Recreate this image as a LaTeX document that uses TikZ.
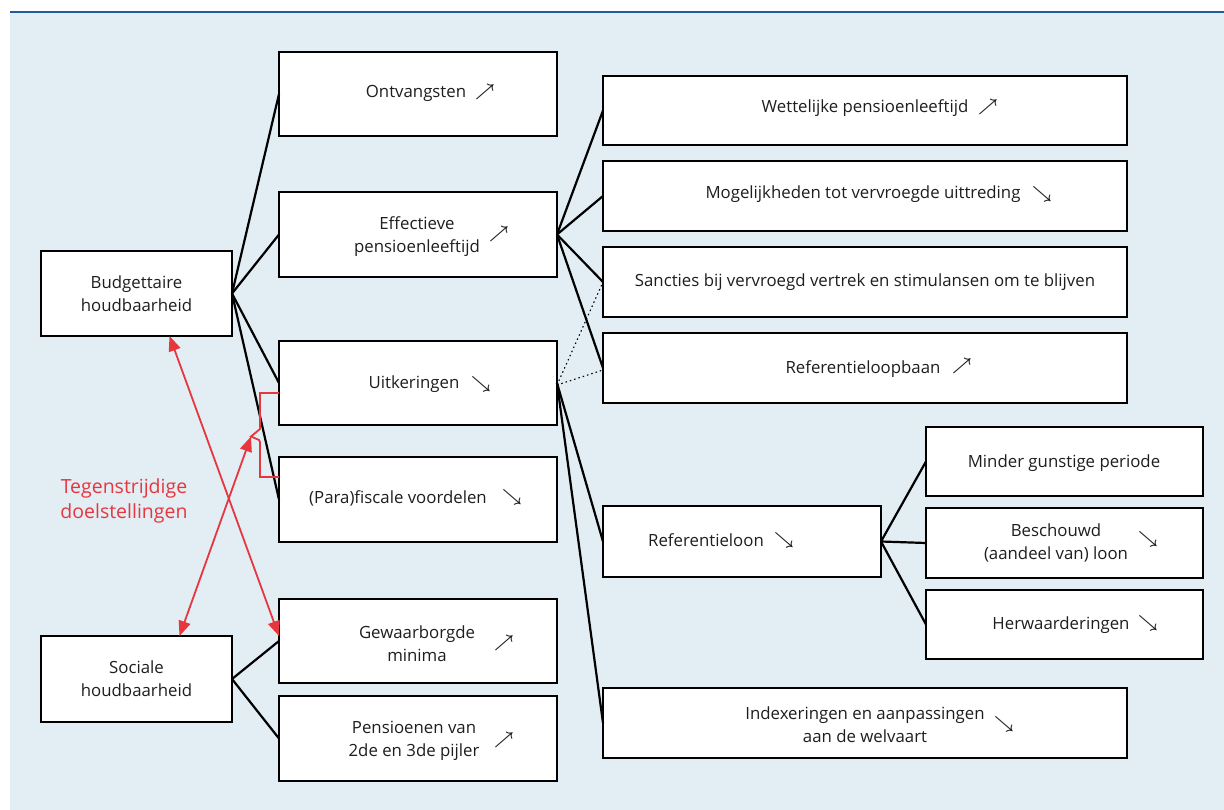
\documentclass[tikz,border=0pt]{standalone}
\usepackage{fontspec}
\setmainfont{Open Sans}
\usetikzlibrary{arrows.meta,calc}
\definecolor{panel}{HTML}{E2EDF4}
\definecolor{topline}{HTML}{1F5C99}
\definecolor{redc}{HTML}{E6373F}
\definecolor{txtc}{HTML}{1E1E1E}
\tikzset{
  box/.style={draw=black, fill=white, line width=1.3pt, outer sep=0pt, inner sep=0pt},
  bw/.style={minimum width=278pt},
  bwide/.style={minimum width=524pt},
  txt/.style={text=txtc, align=center, inner sep=0pt, font=\fontsize{16.8}{23}\selectfont},
  arr/.style={text=txtc, inner sep=0pt, font=\fontsize{17}{17}\selectfont\boldmath},
  conn/.style={draw=black, line width=2.2pt},
  dotc/.style={draw=black, line width=1.1pt, dash pattern=on 1.5pt off 3pt},
  redarr/.style={draw=redc, line width=1.8pt, {Triangle[length=15pt,width=12pt]}-{Triangle[length=15pt,width=12pt]}},
  redl/.style={draw=redc, line width=1.8pt}
}
\begin{document}
\begin{tikzpicture}[x=1pt,y=-1pt]
\useasboundingbox (0,0) rectangle (1224,810);
\fill[white] (0,0) rectangle (1224,810);
\fill[panel] (10,12) rectangle (1224,810);
\draw[topline, line width=2.8pt] (10,12) -- (1224,12);

% left boxes
\node[box, minimum width=191pt, minimum height=85pt] (bud) at (136.5,293.5) {};
\node[box, minimum width=191pt, minimum height=86pt] (soc) at (136.5,679) {};
% middle column
\node[box,bw,minimum height=84pt] (ont) at (418,94) {};
\node[box,bw,minimum height=85pt] (eff) at (418,234.5) {};
\node[box,bw,minimum height=84pt] (uit) at (418,383) {};
\node[box,bw,minimum height=85pt] (fis) at (418,499.5) {};
\node[box,bw,minimum height=84pt] (gew) at (418,641) {};
\node[box,bw,minimum height=85pt] (pen) at (418,738.5) {};
% right column
\node[box,bwide,minimum height=69pt] (wet) at (865,110.5) {};
\node[box,bwide,minimum height=70pt] (mog) at (865,196) {};
\node[box,bwide,minimum height=70pt] (san) at (865,282) {};
\node[box,bwide,minimum height=70pt] (rlb) at (865,368) {};
\node[box,bw,minimum height=71pt] (rln) at (742,541.5) {};
\node[box,bwide,minimum height=70pt] (idx) at (865,723) {};
\node[box,minimum width=277pt,minimum height=69pt] (min) at (1064.5,461.5) {};
\node[box,minimum width=277pt,minimum height=70pt] (bes) at (1064.5,543) {};
\node[box,minimum width=277pt,minimum height=69pt] (her) at (1064.5,624.5) {};

% texts
\node[txt] (budT) at (136.5,294) {Budgettaire\\houdbaarheid};
\node[txt] (socT) at (136.5,679) {Sociale\\houdbaarheid};
\node[txt] (ontT) at (416,93) {Ontvangsten};
\node[arr] (ontA) at (485,92) {$\nearrow$};
\node[txt] (effT) at (417,237) {Effectieve\\pensioenleeftijd};
\node[arr] (effA) at (499,234) {$\nearrow$};
\node[txt] (uitT) at (414,384) {Uitkeringen};
\node[arr] (uitA) at (481,384) {$\searrow$};
\node[txt] (fisT) at (398,498) {(Para)fiscale voordelen};
\node[arr] (fisA) at (512,497) {$\searrow$};
\node[txt] (gewT) at (417,644) {Gewaarborgde\\minima};
\node[arr] (gewA) at (504,643) {$\nearrow$};
\node[txt] (penT) at (414,741) {Pensioenen van\\2de en 3de pijler};
\node[arr] (penA) at (504,740) {$\nearrow$};
\node[txt] (wetT) at (865,108) {Wettelijke pensioenleeftijd};
\node[arr] (wetA) at (988,107) {$\nearrow$};
\node[txt] (mogT) at (863,194) {Mogelijkheden tot vervroegde uittreding};
\node[arr] (mogA) at (1042,194) {$\searrow$};
\node[txt] (sanT) at (865,282) {Sancties bij vervroegd vertrek en stimulansen om te blijven};
\node[txt] (rlbT) at (863,369) {Referentieloopbaan};
\node[arr] (rlbA) at (962,366) {$\nearrow$};
\node[txt] (rlnT) at (706,540) {Referentieloon};
\node[arr] (rlnA) at (784,540) {$\searrow$};
\node[txt] (minT) at (1064,463) {Minder gunstige periode};
\node[txt] (besT) at (1056,543) {Beschouwd\\(aandeel van) loon};
\node[arr] (besA) at (1148,539) {$\searrow$};
\node[txt] (herT) at (1061,625) {Herwaarderingen};
\node[arr] (herA) at (1148,623) {$\searrow$};
\node[txt] (idxT) at (865,725) {Indexeringen en aanpassingen\\aan de welvaart};
\node[arr] (idxA) at (1004,724) {$\searrow$};

% connectors
\foreach \t in {ont,eff,uit,fis} \draw[conn] (bud.east) -- (\t.west);
\foreach \t in {gew,pen} \draw[conn] (soc.east) -- (\t.west);
\foreach \t in {wet,mog,san,rlb} \draw[conn] (eff.east) -- (\t.west);
\foreach \t in {rln,idx} \draw[conn] (uit.east) -- (\t.west);
\foreach \t in {min,bes,her} \draw[conn] (rln.east) -- (\t.west);
\draw[dotc] ([yshift=-2pt]uit.east) -- (san.west);
\draw[dotc] ([yshift=-2pt]uit.east) -- ([yshift=-2pt]rlb.west);

% red bracket and arrows
\coordinate (notch) at (251,436.5);
\draw[redl] ([yshift=-10pt]uit.west) -- (260,393) -- (260,429) -- (notch) -- (259,440) -- (260,442) -- (260,477) -- ([yshift=-20pt]fis.north west);
\draw[redarr] ([xshift=128.5pt]bud.south west) -- ([yshift=-37pt]gew.north west);
\draw[redarr] ([xshift=138.5pt]soc.north west) -- (notch);
\node[text=redc, align=center, inner sep=0pt, font=\fontsize{19.5}{25}\selectfont] (lab) at (124,501) {Tegenstrijdige\\doelstellingen};
\end{tikzpicture}
\end{document}
